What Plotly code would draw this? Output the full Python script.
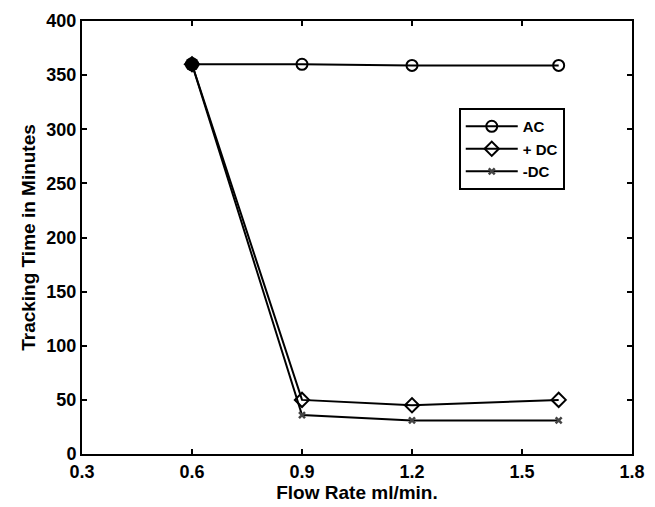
import plotly.graph_objects as go

flow = [0.6, 0.9, 1.2, 1.6]
ac = [360, 360, 359, 359]
pdc = [360, 50, 45, 50]
ndc = [360, 36, 31, 31]
xticks = [0.3, 0.6, 0.9, 1.2, 1.5, 1.8]
yticks = [0, 50, 100, 150, 200, 250, 300, 350, 400]

font = "Liberation Sans"
fig = go.Figure()
fig.add_trace(go.Scatter(x=flow, y=ac, name="AC", mode="lines+markers",
                         line=dict(color="black", width=2),
                         marker=dict(symbol="circle-open", size=11, color="black", line=dict(width=2))))
fig.add_trace(go.Scatter(x=flow, y=pdc, name="+ DC", mode="lines+markers",
                         line=dict(color="black", width=2),
                         marker=dict(symbol="diamond-open", size=11, color="black", line=dict(width=2))))
fig.add_trace(go.Scatter(x=flow, y=ndc, name="-DC", mode="lines+markers",
                         line=dict(color="black", width=2),
                         marker=dict(symbol="x-thin", size=6, color="black", line=dict(width=2.5))))
# filled dot where all series meet
fig.add_trace(go.Scatter(x=[flow[0]], y=[ac[0]], mode="markers", showlegend=False,
                         marker=dict(symbol="circle", size=14, color="black")))

axis_common = dict(showline=True, linecolor="black", linewidth=2, mirror="ticks",
                   ticks="inside", ticklen=5, tickwidth=2, tickcolor="black",
                   showgrid=False, zeroline=False, automargin=False,
                   tickfont=dict(family=font, size=18, color="black", weight="bold"))
fig.update_xaxes(range=[0.3, 1.8], tickvals=xticks, ticktext=[f"{v:.1f}" for v in xticks],
                 title=dict(text="Flow Rate ml/min.",
                            font=dict(family=font, size=19, color="black", weight="bold"), standoff=2),
                 **axis_common)
fig.update_yaxes(range=[0, 400], tickvals=yticks, ticktext=[str(v) for v in yticks],
                 title=dict(text="Tracking Time in Minutes",
                            font=dict(family=font, size=19, color="black", weight="bold"), standoff=6),
                 **axis_common)
fig.update_layout(
    width=655, height=507,
    margin=dict(l=82, r=23, t=21, b=53),
    paper_bgcolor="white", plot_bgcolor="white",
    font=dict(family=font, size=18, color="black"),
    legend=dict(x=0.685, y=0.799, xanchor="left", yanchor="top",
                bordercolor="black", borderwidth=2, bgcolor="white",
                font=dict(family=font, size=15, color="black", weight="bold"),
                tracegroupgap=0, itemwidth=52),
)
fig.write_html("out.html", config={"displayModeBar": False},
               post_script="document.body.style.margin='0';document.body.style.overflow='hidden';")
